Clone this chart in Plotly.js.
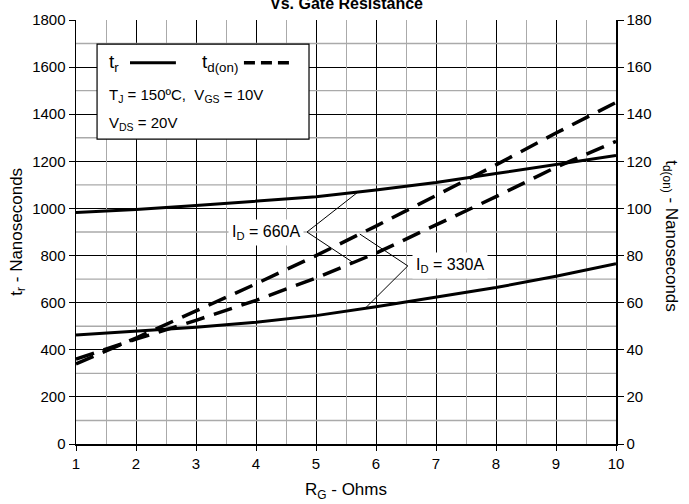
<!DOCTYPE html>
<html>
<head>
<meta charset="utf-8">
<script src="https://cdn.plot.ly/plotly-3.0.1.min.js"></script>
<style>html,body{margin:0;padding:0;background:#fff;}#chart{width:689px;height:504px;}</style>
</head>
<body>
<div id="chart"></div>
<script>
// Gate resistance (Ohms)
var rg = [1, 2, 3, 4, 5, 6, 7, 8, 9, 10];
// Rise time t_r (ns) - left axis
var tr660 = [983, 995, 1012, 1030, 1050, 1078, 1110, 1148, 1188, 1225];
var tr330 = [463, 480, 496, 517, 545, 583, 623, 664, 712, 765];
// Turn-on delay t_d(on) (ns) - right axis
var td660 = [36, 44.5, 52.5, 61, 70.5, 81, 93, 105, 117.5, 128.5];
var td330 = [34, 45, 56.5, 68, 80, 92.5, 105.5, 118.5, 132, 145];
// Axis ticks (range and step)
var xTickRange = [1, 10], xTickStep = 1, xMinorStep = 0.5;
var leftRange = [0, 1800], leftStep = 200, leftMinorStep = 100;
var rightRange = [0, 180], rightStep = 20;

var FONT = "'Liberation Sans', Arial, sans-serif";
var MINOR = '#aaaaaa';

function interp(xs, ys, x) {
  for (var i = 0; i < xs.length - 1; i++) {
    if (x >= xs[i] && x <= xs[i + 1]) {
      var t = (x - xs[i]) / (xs[i + 1] - xs[i]);
      return ys[i] + t * (ys[i + 1] - ys[i]);
    }
  }
  return ys[ys.length - 1];
}

// horizontal minor grid built from the axis range and steps
var minorGX = [], minorGY = [];
for (var gy = leftRange[0] + leftMinorStep; gy < leftRange[1]; gy += leftStep) {
  minorGX.push(xTickRange[0], xTickRange[1], null);
  minorGY.push(gy, gy, null);
}

var solid = {color: '#000', width: 3};
var dashed = {color: '#000', width: 3.5, dash: '19px,10px'};

var traces = [
  {x: minorGX, y: minorGY, mode: 'lines', line: {color: MINOR, width: 1.4}, yaxis: 'y',
    hoverinfo: 'none', showlegend: false, connectgaps: false},
  {x: [], y: [], xaxis: 'x2', yaxis: 'y', hoverinfo: 'none', showlegend: false},
  {x: rg, y: tr660, mode: 'lines', line: solid, yaxis: 'y', name: 'tr 660A', hoverinfo: 'none'},
  {x: rg, y: tr330, mode: 'lines', line: solid, yaxis: 'y', name: 'tr 330A', hoverinfo: 'none'},
  {x: rg, y: td660, mode: 'lines', line: dashed, yaxis: 'y2', name: 'td 660A', hoverinfo: 'none'},
  {x: rg, y: td330, mode: 'lines', line: dashed, yaxis: 'y2', name: 'td 330A', hoverinfo: 'none'}
];

var shapes = [];
// leader line tips (label anchors) and targets
var tip660 = {x: 4.85, y: 900};
var tip330 = {x: 6.53, y: 756};
var leaders = [
  [tip660, {x: 5.7, y: interp(rg, tr660, 5.7)}],
  [tip660, {x: 5.62, y: interp(rg, td660, 5.62) * 10}],
  [tip330, {x: 5.73, y: interp(rg, td330, 5.73) * 10}],
  [tip330, {x: 5.82, y: interp(rg, tr330, 5.82)}]
];
leaders.forEach(function (p) {
  shapes.push({type: 'line', xref: 'x', yref: 'y', x0: p[0].x, y0: p[0].y, x1: p[1].x, y1: p[1].y,
    line: {color: '#000', width: 1}, layer: 'above'});
});
// legend box
shapes.push({type: 'rect', xref: 'paper', yref: 'paper', x0: 0.039, x1: 0.4315, y0: 0.719, y1: 0.943,
  fillcolor: '#fff', line: {color: '#000', width: 1.2}, layer: 'above'});
shapes.push({type: 'line', xref: 'paper', yref: 'paper', x0: 0.10, x1: 0.185, y0: 0.899, y1: 0.899,
  line: {color: '#000', width: 3}, layer: 'above'});
shapes.push({type: 'line', xref: 'paper', yref: 'paper', x0: 0.311, x1: 0.402, y0: 0.899, y1: 0.899,
  line: {color: '#000', width: 3.5, dash: '11px,6px'}, layer: 'above'});

var annotations = [
  {text: '<b>Vs. Gate Resistance</b>', xref: 'paper', yref: 'paper', x: 0.5, y: 1.038, showarrow: false,
    xanchor: 'center', yanchor: 'middle', font: {family: FONT, size: 16, color: '#000'}},
  {text: 't<sub>r</sub>', xref: 'paper', yref: 'paper', x: 0.057, y: 0.899, showarrow: false,
    xanchor: 'left', yanchor: 'middle', font: {family: FONT, size: 19, color: '#000'}},
  {text: 't<sub>d(on)</sub>', xref: 'paper', yref: 'paper', x: 0.2296, y: 0.899, showarrow: false,
    xanchor: 'left', yanchor: 'middle', font: {family: FONT, size: 19, color: '#000'}},
  {text: 'T<sub>J</sub> = 150ºC,  V<sub>GS</sub> = 10V', xref: 'paper', yref: 'paper', x: 0.057, y: 0.823, showarrow: false,
    xanchor: 'left', yanchor: 'middle', font: {family: FONT, size: 15, color: '#000'}},
  {text: 'V<sub>DS</sub> = 20V', xref: 'paper', yref: 'paper', x: 0.057, y: 0.757, showarrow: false,
    xanchor: 'left', yanchor: 'middle', font: {family: FONT, size: 15, color: '#000'}},
  {text: 'I<sub>D</sub> = 660A', xref: 'x', yref: 'y', x: tip660.x, y: tip660.y, showarrow: false,
    xanchor: 'right', yanchor: 'middle', xshift: -3, bgcolor: '#fff', borderpad: 3,
    font: {family: FONT, size: 16, color: '#000'}},
  {text: 'I<sub>D</sub> = 330A', xref: 'x', yref: 'y', x: tip330.x, y: tip330.y, showarrow: false,
    xanchor: 'left', yanchor: 'middle', xshift: 4, bgcolor: '#fff', borderpad: 3,
    font: {family: FONT, size: 16, color: '#000'}},
  {text: 't<sub>r</sub> - Nanoseconds', xref: 'paper', yref: 'paper', x: -0.108, y: 0.5, showarrow: false,
    textangle: -90, xanchor: 'center', yanchor: 'middle', font: {family: FONT, size: 17, color: '#000'}},
  {text: 't<sub>d(on)</sub> - Nanoseconds', xref: 'paper', yref: 'paper', x: 1.1, y: 0.49, showarrow: false,
    textangle: 90, xanchor: 'center', yanchor: 'middle', font: {family: FONT, size: 17, color: '#000'}},
  {text: 'R<sub>G</sub> - Ohms', xref: 'paper', yref: 'paper', x: 0.5, y: -0.11, showarrow: false,
    xanchor: 'center', yanchor: 'middle', font: {family: FONT, size: 17, color: '#000'}}
];

var layout = {
  width: 689, height: 504,
  margin: {l: 76, r: 73, t: 20, b: 60, pad: 0},
  paper_bgcolor: '#fff', plot_bgcolor: '#fff',
  showlegend: false,
  font: {family: FONT, size: 15, color: '#000'},
  xaxis: {
    range: xTickRange, tickmode: 'linear', tick0: xTickRange[0], dtick: xTickStep,
    showgrid: true, gridcolor: '#000', gridwidth: 1,
    showline: true, linecolor: '#000', linewidth: 1.5, mirror: false,
    ticks: 'outside', ticklen: 5, tickcolor: '#000', zeroline: false,
    tickfont: {family: FONT, size: 15, color: '#000'}, fixedrange: true
  },
  // helper axis: vertical minor grid
  xaxis2: {
    range: xTickRange, overlaying: 'x', anchor: 'y', side: 'bottom',
    tickmode: 'linear', tick0: xTickRange[0] + xMinorStep, dtick: xTickStep,
    showgrid: true, gridcolor: MINOR, gridwidth: 1,
    showticklabels: false, ticks: '', showline: false, zeroline: false, fixedrange: true
  },
  yaxis: {
    range: leftRange, tickmode: 'linear', tick0: 0, dtick: leftStep,
    showgrid: true, gridcolor: '#000', gridwidth: 1,
    showline: true, linecolor: '#000', linewidth: 1.5,
    ticks: 'outside', ticklen: 6, tickcolor: '#000', zeroline: false,
    tickfont: {family: FONT, size: 15, color: '#000'}, fixedrange: true
  },
  yaxis2: {
    range: rightRange, tickmode: 'linear', tick0: 0, dtick: rightStep,
    overlaying: 'y', side: 'right', showgrid: false,
    showline: true, linecolor: '#000', linewidth: 1.5,
    ticks: 'outside', ticklen: 6, tickcolor: '#000', zeroline: false,
    tickfont: {family: FONT, size: 15, color: '#000'}, fixedrange: true
  },
  shapes: shapes,
  annotations: annotations
};

Plotly.newPlot('chart', traces, layout, {staticPlot: true, displayModeBar: false});
</script>
</body>
</html>
